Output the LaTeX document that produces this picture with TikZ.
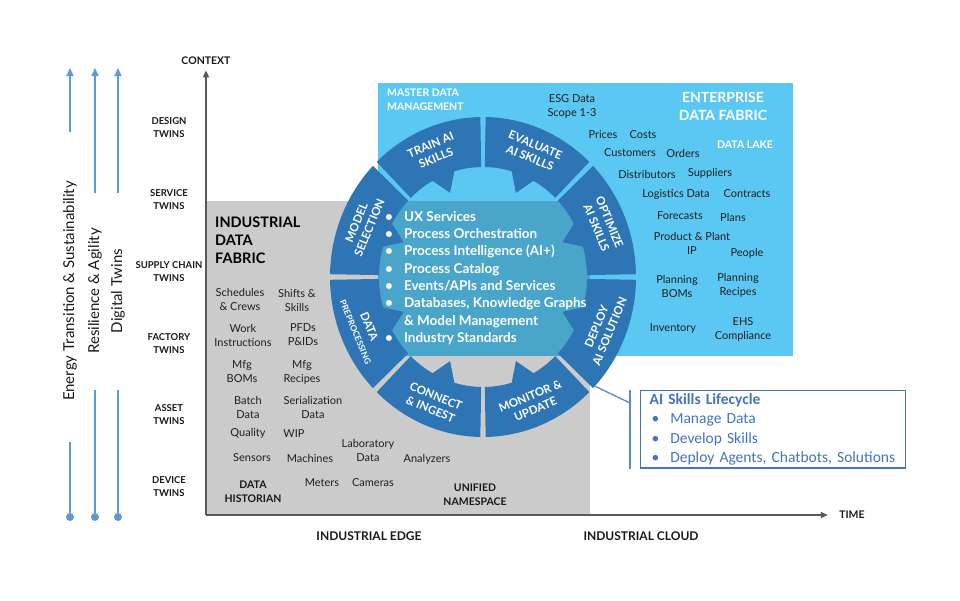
\documentclass[tikz,border=0pt]{standalone}
\usepackage{fontspec}
\setmainfont{Lato}
\newfontfamily\boxfont{Carlito}
\usetikzlibrary{arrows.meta}

\definecolor{skyfab}{HTML}{5BC8F4}
\definecolor{grayfab}{HTML}{CBCBCB}
\definecolor{midfab}{HTML}{4AA5CB}
\definecolor{ringblue}{HTML}{2E75B6}
\definecolor{trendblue}{HTML}{5B9BD5}
\definecolor{axisgray}{HTML}{595959}
\definecolor{lifeblue}{HTML}{4472C4}

\tikzset{
    twin/.style={font=\fontsize{9.5}{13}\selectfont\bfseries, align=center, text=black!90},
    item/.style={font=\fontsize{11}{14}\selectfont, align=center, text=black!88, inner sep=0pt},
    heading/.style={font=\fontsize{10.5}{14}\selectfont\bfseries, align=center, text=black!90},
    segtext/.style={font=\fontsize{11.5}{14}\selectfont\bfseries, text=white, align=center, inner sep=0pt},
    trend/.style={trendblue, line width=1.6pt},
    axis/.style={axisgray, line width=1.8pt, -{Triangle[length=7pt,width=6pt]}},
}

\begin{document}
\begin{tikzpicture}[x=1pt,y=1pt]
    \useasboundingbox (0,0) rectangle (960,-600);
    \fill[white] (0,0) rectangle (960,-600);
    % fabrics
    \fill[skyfab] (378,-83) rectangle (793,-356);
    \fill[grayfab] (206,-201) rectangle (590,-515);
    \fill[midfab] (378,-201) rectangle (590,-356); % overlap
    % lifecycle ring
    \begin{scope}[shift={(483,-277)}]
        \foreach \c in {22.5,67.5,...,337.5}{
            \fill[ringblue] (\c-21.5:153 and 160) arc[start angle=\c-21.5, end angle=\c+21.5, x radius=153, y radius=160]
                -- (\c+21.5:104 and 110) arc[start angle=\c+21.5, end angle=\c+6.5, x radius=104, y radius=110]
                -- (\c:86 and 91) -- (\c-6.5:104 and 110) arc[start angle=\c-6.5, end angle=\c-21.5, x radius=104, y radius=110] -- cycle;
        }
        \foreach \c/\r/\lbl [count=\k] in {112.5/22.5/{TRAIN AI\\SKILLS}, 67.5/-22.5/{EVALUATE\\AI SKILLS},
            22.5/-67.5/{OPTIMIZE\\AI SKILLS}, 337.5/67.5/{DEPLOY\\AI SOLUTION}, 292.5/22.5/{MONITOR \&\\UPDATE},
            247.5/-22.5/{CONNECT\\\& INGEST}, 202.5/-67.5/{DATA\\{\fontsize{8.5}{10}\selectfont PREPROCESSING}},
            157.5/67.5/{MODEL\\SELECTION}}
            \node[segtext, rotate=\r] (seg\k) at (\c:130 and 136) {\lbl};
        \coordinate (depcorner) at (317:153 and 160);
    \end{scope}
    \node[anchor=north west, text=white, font=\fontsize{13.5}{17.3}\selectfont\bfseries, inner sep=0pt] (core) at (385,-209)
        {\begin{tabular}{@{}l@{\hspace{11pt}}l@{}}
        \textbullet & UX Services\\
        \textbullet & Process Orchestration\\
        \textbullet & Process Intelligence (AI+)\\
        \textbullet & Process Catalog\\
        \textbullet & Events/APIs and Services\\
        \textbullet & Databases, Knowledge Graphs\\
                    & \& Model Management\\
        \textbullet & Industry Standards
        \end{tabular}};
    % enterprise data fabric
    \node[heading, text=white, align=left, anchor=north west, inner sep=0pt] (mdm) at (387,-89) {MASTER DATA\\MANAGEMENT};
    \node[font=\fontsize{14}{18}\selectfont\bfseries, text=white, align=center] (edf) at (723,-106) {ENTERPRISE\\DATA FABRIC};
    \node[heading, text=white] (lake) at (745,-145) {DATA LAKE};
    \foreach \x/\y/\t [count=\k] in {572/106/{ESG Data\\Scope 1-3}, 603/135/Prices, 643/135/Costs, 630/153/Customers,
        683/153/Orders, 647/174/Distributors, 710/173/Suppliers, 676/194/Logistics Data, 747/194/Contracts,
        680/216/Forecasts, 733/217/Plans, 692/243/{Product \& Plant\\IP}, 747/253/People, 677/286/{Planning\\BOMs},
        738/285/{Planning\\Recipes}, 673/328/Inventory, 743/329/{EHS\\Compliance}}
        \node[item] (ent\k) at (\x,-\y) {\t};
    % industrial data fabric
    \node[font=\fontsize{14.5}{18}\selectfont\bfseries, align=left, anchor=west, inner sep=0pt] (idf) at (215,-240) {INDUSTRIAL\\DATA\\FABRIC};
    \foreach \x/\y/\t [count=\k] in {240/299/{Schedules\\\& Crews}, 297/300/{Shifts \&\\Skills}, 243/335/{Work\\Instructions},
        303/335/{PFDs\\P\&IDs}, 242/372/{Mfg\\BOMs}, 302/372/{Mfg\\Recipes}, 248/407/{Batch\\Data},
        313/407/{Serialization\\Data}, 248/433/Quality, 294/434/WIP, 252/458/Sensors, 310/458/Machines,
        368/450/{Laboratory\\Data}, 427/459/Analyzers, 322/483/Meters, 373/483/Cameras}
        \node[item] (ind\k) at (\x,-\y) {\t};
    \node[heading] (historian) at (253,-492) {DATA\\HISTORIAN};
    \node[heading] (uns) at (475,-495) {UNIFIED\\NAMESPACE};
    % axes
    \coordinate (origin) at (206,-515);
    \node[heading] (context) at (206,-61) {CONTEXT};
    \node[heading] (time) at (852,-515) {TIME};
    \draw[axis, shorten >=2pt] (origin) -- (context);
    \draw[axis, shorten >=8pt] (origin) -- (time);
    \node[heading, font=\fontsize{12}{14}\selectfont\bfseries] (edge) at (369,-536) {INDUSTRIAL EDGE};
    \node[heading, font=\fontsize{12}{14}\selectfont\bfseries] (cloud) at (641,-536) {INDUSTRIAL CLOUD};
    % twins
    \foreach \y/\t [count=\k] in {128/DESIGN, 200/SERVICE, 272/SUPPLY CHAIN, 344/FACTORY, 415/ASSET, 487/DEVICE}
        \node[twin] (twin\k) at (169,-\y) {\t\\TWINS};
    % trends
    \foreach \x/\ya/\yb/\lbl [count=\k] in {70/132/442/Energy Transition \& Sustainability,
        95/193/390/Resilience \& Agility, 118/193/390/Digital Twins}{
        \node[circle, fill=trendblue, inner sep=0pt, minimum size=8pt] (dot\k) at (\x,-517) {};
        \node[rotate=90, font=\fontsize{15}{18}\selectfont, text=black!90] (trend\k) at (\x,-291) {\lbl};
        \draw[trend] (dot\k) -- (\x,-\yb);
        \draw[trend, -{Triangle[length=8pt,width=7pt]}] (\x,-\ya) -- (\x,-68);
    }
    % lifecycle box
    \node[draw=lifeblue, line width=1.2pt, fill=white, anchor=north west, align=left, text=lifeblue,
        font=\boxfont\fontsize{15.5}{19.3}\selectfont, inner xsep=9pt, inner ysep=3pt, text width=247pt] (life) at (640,-390)
        {\textbf{AI Skills Lifecycle}\\
        \hspace{2pt}\textbullet\hspace{11pt}Manage Data\\
        \hspace{2pt}\textbullet\hspace{11pt}Develop Skills\\
        \hspace{2pt}\textbullet\hspace{11pt}Deploy Agents, Chatbots, Solutions};
    \coordinate (brtop) at ([xshift=-10pt]life.north west);
    \coordinate (brbot) at ([xshift=-10pt]life.south west);
    \draw[lifeblue!85, line width=1.3pt] (brtop) -- (brbot);
    \draw[lifeblue!85, line width=1.3pt] (depcorner) -- ([yshift=-13pt]brtop);
\end{tikzpicture}
\end{document}
